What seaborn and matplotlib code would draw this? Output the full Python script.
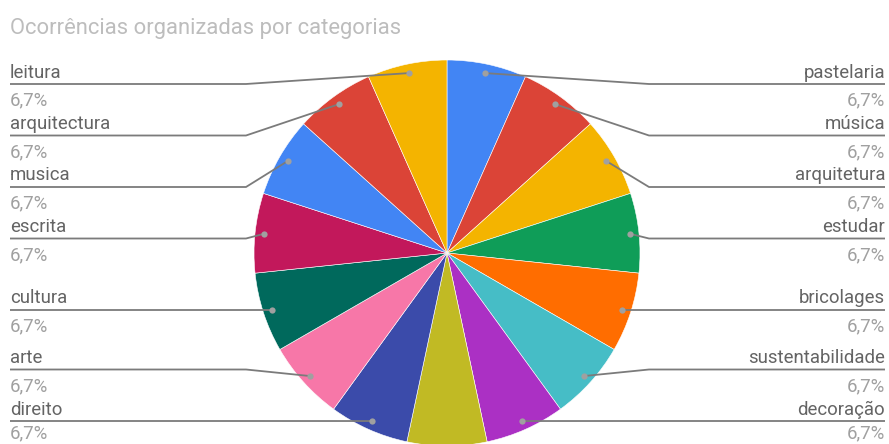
import numpy as np
import matplotlib
matplotlib.use("Agg")
import matplotlib.pyplot as plt
import seaborn as sns

# ---- data -------------------------------------------------------------
categories = ["pastelaria", "música", "arquitetura", "estudar", "bricolages",
              "sustentabilidade", "decoração", "", "direito", "arte",
              "cultura", "escrita", "musica", "arquitectura", "leitura"]
occurrences = [1, 1, 1, 1, 1, 1, 1, 1, 1, 1, 1, 1, 1, 1, 1]
slice_colors = ["#4285F4", "#DB4437", "#F4B400", "#0F9D58", "#FF6D00",
                "#46BDC6", "#AB30C4", "#C1BA24", "#3B4BAA", "#F777A8",
                "#00695C", "#C2185B", "#4285F4", "#DB4437", "#F4B400"]
title = "Ocorrências organizadas por categorias"

# ---- style ------------------------------------------------------------
sns.set_theme(style="white")
plt.rcParams["font.family"] = ["Roboto", "DejaVu Sans"]

W, H = 889, 444
fig = plt.figure(figsize=(W / 100, H / 100), dpi=100)
ax = fig.add_axes([0, 0, 1, 1])

# pixel-like frame: x to the right, y measured from the top
def py(y):
    return H - y

cx, cy, R = 447, 253, 193
palette = sns.color_palette(slice_colors)
wedges, _ = ax.pie(occurrences, colors=palette, startangle=90,
                   counterclock=False, center=(cx, py(cy)), radius=R,
                   wedgeprops=dict(edgecolor="white", linewidth=0.4))

ax.set_xlim(0, W)
ax.set_ylim(0, H)
ax.set_aspect("auto")
ax.axis("off")

total = sum(occurrences)
label_col = "#646464"
pct_col = "#a0a0a0"
line_col = "#7b7b7b"
fs = 13.4

# anchor dots inside each slice, collected per side
sides = {"left": [], "right": []}
for w, name, v in zip(wedges, categories, occurrences):
    if not name:
        continue
    mid = np.deg2rad((w.theta1 + w.theta2) / 2)
    dx = cx + 0.953 * R * np.cos(mid)
    dy_top = cy - 0.953 * R * np.sin(mid)
    side = "right" if np.cos(mid) > 0 else "left"
    sides[side].append([dy_top, dx, name, v])

gap, top_y, bottom_y = 51.5, 84, 421
for side, items in sides.items():
    items.sort(key=lambda t: t[0])
    ys = [t[0] for t in items]
    # push rows apart: downward from the top, then upward from the bottom
    for i in range(len(ys)):
        lo = top_y if i == 0 else ys[i - 1] + gap
        ys[i] = max(ys[i], lo)
    for i in range(len(ys) - 1, -1, -1):
        hi = bottom_y if i == len(ys) - 1 else ys[i + 1] - gap
        ys[i] = min(ys[i], hi)
    for (dy_top, dx, name, v), ly in zip(items, ys):
        if side == "left":
            bend, edge, ha = 246, 10, "left"
        else:
            bend, edge, ha = 649, 885, "right"
        ax.plot([dx, bend, edge], [py(dy_top), py(ly), py(ly)],
                color=line_col, lw=1.3, solid_capstyle="butt", zorder=3)
        ax.plot([dx], [py(dy_top)], marker="o", ms=4.5, color="#a0a0a0",
                mec="none", zorder=4)
        pct = f"{100 * v / total:.1f}%".replace(".", ",")
        ax.text(edge, py(ly - 6.5), name, ha=ha, va="baseline",
                fontsize=fs, color=label_col)
        ax.text(edge, py(min(ly + 21.5, H - 5.5)), pct, ha=ha,
                va="baseline", fontsize=fs, color=pct_col)

ax.text(10, py(34), title, ha="left", va="baseline", fontsize=15.8,
        color="#bdbdbd")

fig.savefig("out.png", dpi=100, facecolor="white")
